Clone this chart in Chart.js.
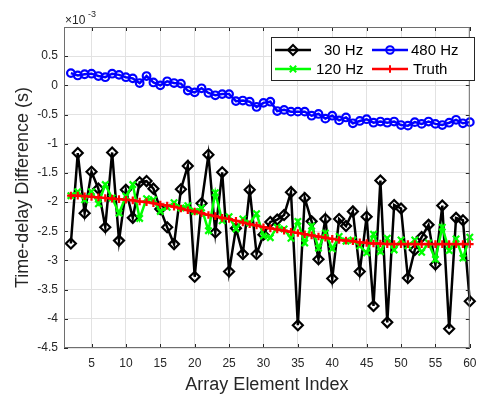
<!DOCTYPE html>
<html>
<head>
<meta charset="utf-8">
<script src="https://cdn.jsdelivr.net/npm/chart.js@4.4.0/dist/chart.umd.min.js"></script>
<style>
	html, body { margin: 0; padding: 0; background: #fff; }
	canvas { display: block; }
</style>
</head>
<body>
<canvas id="chart" width="477" height="394"></canvas>
<script>
const FONT = '"Liberation Sans", Arial, Helvetica, sans-serif';
const TEXT = "#262626";

// array element index (element 1 is the reference, so values start at 2)
const elementIndex = [
	2, 3, 4, 5, 6, 7, 8, 9, 10, 11, 12, 13, 14, 15, 16, 17, 18, 19, 20, 21,
	22, 23, 24, 25, 26, 27, 28, 29, 30, 31, 32, 33, 34, 35, 36, 37, 38, 39, 40, 41,
	42, 43, 44, 45, 46, 47, 48, 49, 50, 51, 52, 53, 54, 55, 56, 57, 58, 59, 60,
];

// time-delay differences, in units of 1e-3 s
const hz30 = [
	-2.71, -1.16, -2.19, -1.48, -1.77, -2.43, -1.15, -2.66, -1.79, -2.27,
	-1.66, -1.64, -1.77, -2.12, -2.43, -2.72, -1.78, -1.38, -3.28, -2.02,
	-1.19, -2.52, -1.49, -3.19, -2.45, -2.89, -1.79, -2.89, -2.56, -2.34,
	-2.30, -2.22, -1.83, -4.11, -1.93, -2.33, -2.98, -2.29, -3.31, -2.29,
	-2.41, -2.16, -3.19, -2.25, -3.78, -1.63, -4.06, -2.05, -2.11, -3.30,
	-2.82, -2.60, -2.39, -3.07, -2.06, -4.17, -2.27, -2.31, -3.70,
];
const hz120 = [
	-1.89, -1.82, -1.96, -1.82, -2.03, -1.70, -1.93, -2.19, -1.90, -1.70,
	-2.28, -1.94, -1.96, -2.16, -2.09, -2.01, -2.10, -2.06, -2.16, -2.10,
	-2.49, -1.84, -2.32, -2.25, -2.46, -2.29, -2.36, -2.20, -2.58, -2.61,
	-2.43, -2.46, -2.62, -2.33, -2.70, -2.41, -2.79, -2.53, -2.80, -2.59,
	-2.67, -2.65, -2.75, -2.87, -2.55, -2.85, -2.62, -2.82, -2.65, -2.75,
	-2.65, -2.86, -2.70, -2.98, -2.43, -2.83, -2.63, -2.96, -2.60,
];
const hz480 = [
	0.21, 0.17, 0.19, 0.20, 0.16, 0.14, 0.20, 0.18, 0.14, 0.12,
	0.04, 0.16, 0.05, 0.00, 0.07, 0.04, 0.03, -0.09, -0.12, -0.05,
	-0.13, -0.17, -0.15, -0.15, -0.27, -0.26, -0.28, -0.37, -0.30, -0.28,
	-0.44, -0.42, -0.45, -0.45, -0.45, -0.52, -0.49, -0.57, -0.52, -0.60,
	-0.55, -0.65, -0.61, -0.58, -0.64, -0.62, -0.64, -0.62, -0.68, -0.69,
	-0.63, -0.66, -0.62, -0.66, -0.68, -0.64, -0.59, -0.65, -0.63,
];
const truth = [
	-1.89, -1.89, -1.90, -1.91, -1.92, -1.93, -1.94, -1.95, -1.96, -1.97,
	-1.99, -2.00, -2.02, -2.04, -2.06, -2.08, -2.11, -2.14, -2.16, -2.19,
	-2.22, -2.24, -2.27, -2.29, -2.32, -2.35, -2.38, -2.40, -2.43, -2.45,
	-2.47, -2.49, -2.51, -2.53, -2.55, -2.57, -2.59, -2.61, -2.63, -2.65,
	-2.66, -2.67, -2.69, -2.70, -2.71, -2.71, -2.72, -2.72, -2.72, -2.72,
	-2.72, -2.72, -2.72, -2.72, -2.72, -2.72, -2.72, -2.72, -2.72,
];

const xTicks = [5, 10, 15, 20, 25, 30, 35, 40, 45, 50, 55, 60];
const yTicks = [-4.5, -4, -3.5, -3, -2.5, -2, -1.5, -1, -0.5, 0, 0.5, 1];

function toPoints(values) {
	return elementIndex.map((x, i) => ({ x: x, y: values[i] }));
}

const series = [
	{ label: "30 Hz", data: hz30, color: "#000000", style: "rectRot", radius: 5, order: 3 },
	{ label: "120 Hz", data: hz120, color: "#00ff00", style: "crossRot", radius: 4.5, order: 2 },
	{ label: "480 Hz", data: hz480, color: "#0000ff", style: "circle", radius: 3.8, order: 1 },
	{ label: "Truth", data: truth, color: "#ff0000", style: "cross", radius: 3.8, order: 0 },
];

// MATLAB-like box: frame, inward ticks, x10^-3 exponent
const axesBox = {
	id: "axesBox",
	afterDatasetsDraw(chart) {
		const { ctx, chartArea: a, scales } = chart;
		ctx.save();
		ctx.strokeStyle = TEXT;
		ctx.lineWidth = 1;
		ctx.beginPath();
		xTicks.forEach((v) => {
			const px = Math.round(scales.x.getPixelForValue(v)) + 0.5;
			ctx.moveTo(px, a.bottom);
			ctx.lineTo(px, a.bottom - 4);
			ctx.moveTo(px, a.top);
			ctx.lineTo(px, a.top + 4);
		});
		yTicks.forEach((v) => {
			const py = Math.round(scales.y.getPixelForValue(v)) + 0.5;
			ctx.moveTo(a.left, py);
			ctx.lineTo(a.left + 4, py);
			ctx.moveTo(a.right, py);
			ctx.lineTo(a.right - 4, py);
		});
		ctx.stroke();
		ctx.strokeStyle = "#6e6e6e";
		ctx.strokeRect(a.left + 0.5, a.top + 0.5, a.right - a.left - 1, a.bottom - a.top - 1);

		ctx.fillStyle = TEXT;
		ctx.textBaseline = "alphabetic";
		ctx.textAlign = "left";
		ctx.font = "12px " + FONT;
		ctx.fillText("\u00d710", a.left + 1, a.top - 3);
		ctx.font = "9px " + FONT;
		ctx.fillText("-3", a.left + 24, a.top - 10);
		ctx.restore();
	},
};

function drawMarker(ctx, s, x, y) {
	ctx.strokeStyle = s.color;
	ctx.fillStyle = "rgba(0,0,0,0)";
	ctx.lineWidth = 2;
	Chart.helpers.drawPoint(ctx, { pointStyle: s.style, radius: s.radius, borderWidth: 2, rotation: 0 }, x, y);
}

const boxLegend = {
	id: "boxLegend",
	afterDraw(chart) {
		const ctx = chart.ctx;
		const box = { x: 271, y: 37, w: 203, h: 43 };
		const slots = [
			{ s: series[0], lx: 275, tx: 324, y: 50 },
			{ s: series[2], lx: 372, tx: 411, y: 50 },
			{ s: series[1], lx: 275, tx: 316, y: 69 },
			{ s: series[3], lx: 372, tx: 413, y: 69 },
		];
		ctx.save();
		ctx.fillStyle = "#fff";
		ctx.fillRect(box.x, box.y, box.w, box.h);
		ctx.strokeStyle = TEXT;
		ctx.lineWidth = 1;
		ctx.strokeRect(box.x + 0.5, box.y + 0.5, box.w, box.h);
		slots.forEach((slot) => {
			ctx.strokeStyle = slot.s.color;
			ctx.lineWidth = 2.5;
			ctx.beginPath();
			ctx.moveTo(slot.lx, slot.y);
			ctx.lineTo(slot.lx + 36, slot.y);
			ctx.stroke();
			drawMarker(ctx, slot.s, slot.lx + 18, slot.y);
			ctx.fillStyle = "#000";
			ctx.font = "15px " + FONT;
			ctx.textAlign = "left";
			ctx.textBaseline = "middle";
			ctx.fillText(slot.s.label, slot.tx, slot.y + 1);
		});
		ctx.restore();
	},
};

new Chart(document.getElementById("chart"), {
	type: "line",
	data: {
		datasets: series.map((s) => ({
			label: s.label,
			data: toPoints(s.data),
			borderColor: s.color,
			borderWidth: 2.5,
			pointStyle: s.style,
			pointRadius: s.radius,
			pointBorderWidth: 2.2,
			pointBorderColor: s.color,
			pointBackgroundColor: "rgba(0,0,0,0)",
			tension: 0,
			order: s.order,
			clip: false,
		})),
	},
	options: {
		responsive: false,
		animation: false,
		devicePixelRatio: 1,
		layout: { padding: { top: 27, right: 2, left: 0, bottom: 0 } },
		plugins: {
			legend: { display: false },
			tooltip: { enabled: false },
		},
		scales: {
			x: {
				type: "linear",
				min: 1,
				max: 60,
				afterBuildTicks(scale) {
					scale.ticks = xTicks.map((v) => ({ value: v }));
				},
				afterFit(scale) {
					scale.height = 46;
					scale.paddingLeft = 0;
					scale.paddingRight = 0;
				},
				grid: { color: "#e2e2e2", drawTicks: false },
				border: { display: false },
				ticks: {
					padding: 8,
					maxRotation: 0,
					autoSkip: false,
					color: TEXT,
					font: { family: FONT, size: 12 },
				},
				title: {
					display: true,
					text: "Array Element Index",
					color: TEXT,
					font: { family: FONT, size: 18, lineHeight: 1 },
					padding: { top: 0, bottom: 0 },
				},
			},
			y: {
				type: "linear",
				min: -4.5,
				max: 1,
				afterBuildTicks(scale) {
					scale.ticks = yTicks.map((v) => ({ value: v }));
				},
				afterFit(scale) {
					scale.width = 64;
					scale.paddingTop = 0;
					scale.paddingBottom = 0;
				},
				grid: { color: "#e2e2e2", drawTicks: false },
				border: { display: false },
				ticks: {
					padding: 6,
					color: TEXT,
					font: { family: FONT, size: 12 },
					callback: (v) => (v === 1 ? "" : String(v)),
				},
				title: {
					display: true,
					text: "Time-delay Difference (s)",
					color: TEXT,
					font: { family: FONT, size: 18, lineHeight: 1 },
					padding: { top: 14, bottom: 0 },
				},
			},
		},
	},
	plugins: [axesBox, boxLegend],
});
</script>
</body>
</html>
